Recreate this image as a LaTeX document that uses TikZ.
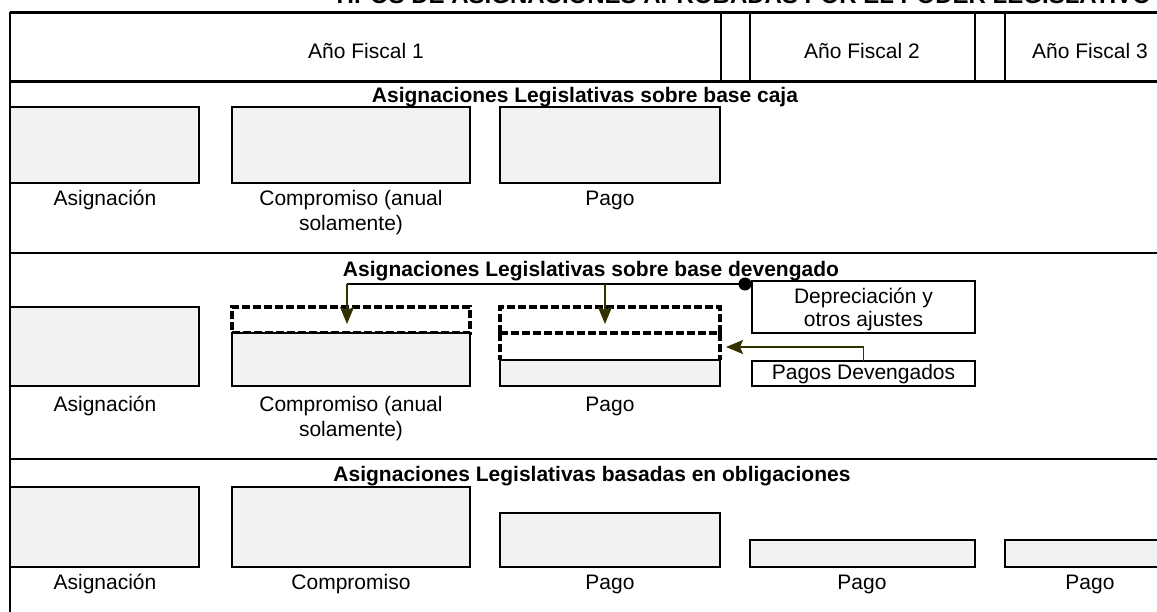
\documentclass[tikz,border=0pt]{standalone}
\usepackage{fontspec}
\setmainfont{Liberation Sans}
\usetikzlibrary{arrows.meta,calc}
\definecolor{boxgray}{HTML}{F2F2F2}
\definecolor{olive}{RGB}{51,51,0}
\begin{document}
\begin{tikzpicture}[x=1pt,y=-1pt,
  every node/.style={font=\fontsize{21}{25}\selectfont, inner sep=0pt, outer sep=0pt},
  gbox/.style={draw=black, fill=boxgray, line width=1.6pt, anchor=north west},
  dashline/.style={draw=black, line width=3.2pt, dash pattern=on 8pt off 3pt},
  dbox/.style={dashline, anchor=north west},
  wbox/.style={draw=black, fill=white, line width=1.6pt, anchor=north west},
  lbl/.style={align=center, anchor=base},
  ttl/.style={font=\fontsize{21}{25}\selectfont\bfseries, anchor=base},
  arr/.style={draw=olive, line width=1.5pt, -{Stealth[length=17pt,width=14pt,inset=3pt]}},
  thick line/.style={line width=3pt},
  thin line/.style={line width=1.6pt}]
\useasboundingbox (0,0) rectangle (1157,611);
\clip (0,0) rectangle (1157,611);
% cut-off title
\node[font=\fontsize{24}{28}\selectfont\bfseries, anchor=base east] (title) at (1151,3) {TIPOS DE ASIGNACIONES APROBADAS POR EL PODER LEGISLATIVO};
% frame
\draw[thin line] (10,12) -- (10,620);
\draw[thick line] (10,12) -- (1170,12);
\draw[thick line] (10,81) -- (1170,81);
\draw[thin line] (721,12) -- (721,81);
\draw[thin line] (750,12) -- (750,81);
\draw[thin line] (975,12) -- (975,81);
\draw[thin line] (1005,12) -- (1005,81);
\draw[thin line] (10,253) -- (1170,253);
\draw[thin line] (10,459) -- (1170,459);
% header
\node[anchor=base] (af1) at (366,58) {Año Fiscal 1};
\node[anchor=base] (af2) at (862,58) {Año Fiscal 2};
\node[anchor=base] (af3) at (1090,58) {Año Fiscal 3};
% section 1
\node[ttl] (s1) at (585,102) {Asignaciones Legislativas sobre base caja};
\node[gbox, minimum width=189pt, minimum height=76pt] (a1) at (10,107) {};
\node[gbox, minimum width=238pt, minimum height=76pt] (c1) at (232,107) {};
\node[gbox, minimum width=220pt, minimum height=76pt] (p1) at (500,107) {};
\node[lbl] (la1) at (105,205) {Asignación};
\node[lbl] (lc1) at (351,230) {Compromiso (anual\\solamente)};
\node[lbl] (lp1) at (610,205) {Pago};
% section 2
\node[ttl] (s2) at (591,276) {Asignaciones Legislativas sobre base devengado};
\node[gbox, minimum width=189pt, minimum height=79pt] (a2) at (10,307) {};
\node[dbox, minimum width=238pt, minimum height=26pt] (c2d) at (232,307) {};
\node[gbox, minimum width=238pt, minimum height=53pt] (c2) at (232,333) {};
\node[dbox, minimum width=220pt, minimum height=26pt] (p2d1) at (500,307) {};
\node[anchor=north west, minimum width=220pt, minimum height=27pt] (p2d2) at (500,333) {};
\draw[dashline] (p2d2.north west) -- (p2d2.south west) (p2d2.north east) -- (p2d2.south east);
\node[gbox, minimum width=220pt, minimum height=26pt] (p2) at (500,360) {};
\node[lbl] (la2) at (105,411) {Asignación};
\node[lbl] (lc2) at (351,436) {Compromiso (anual\\solamente)};
\node[lbl] (lp2) at (610,411) {Pago};
\node[wbox, minimum width=223pt, minimum height=52pt] (dep) at (752,281) {};
\node[align=center, font=\fontsize{21}{23}\selectfont] (deptxt) at ([yshift=-2]dep.center) {Depreciación y\\otros ajustes};
\node[wbox, minimum width=223pt, minimum height=25pt] (pd) at (752,361) {};
\node (pdtxt) at ([yshift=-1]pd.center) {Pagos Devengados};
\coordinate (dot) at (745,284);
\coordinate (j1) at (347,284);
\coordinate (j2) at (605,284);
\coordinate (t1) at (347,324);
\coordinate (t2) at (605,324);
\draw[thin line] (dot) -- (j1);
\fill (dot) circle (6.5pt);
\draw[arr] (j1) -- (t1);
\draw[arr] (j2) -- (t2);
\coordinate (t3) at (726,347);
\draw[arr] (pd.north) |- (t3);
% section 3
\node[ttl] (s3) at (592,481) {Asignaciones Legislativas basadas en obligaciones};
\node[gbox, minimum width=189pt, minimum height=80pt] (a3) at (10,487) {};
\node[gbox, minimum width=238pt, minimum height=80pt] (c3) at (232,487) {};
\node[gbox, minimum width=220pt, minimum height=54pt] (p3) at (500,513) {};
\node[gbox, minimum width=225pt, minimum height=27pt] (p4) at (750,540) {};
\node[gbox, minimum width=220pt, minimum height=27pt] (p5) at (1005,540) {};
\node[lbl] (la3) at (105,589) {Asignación};
\node[lbl] (lc3) at (351,589) {Compromiso};
\node[lbl] (lp3) at (610,589) {Pago};
\node[lbl] (lp4) at (862,589) {Pago};
\node[lbl] (lp5) at (1090,589) {Pago};
\end{tikzpicture}
\end{document}
